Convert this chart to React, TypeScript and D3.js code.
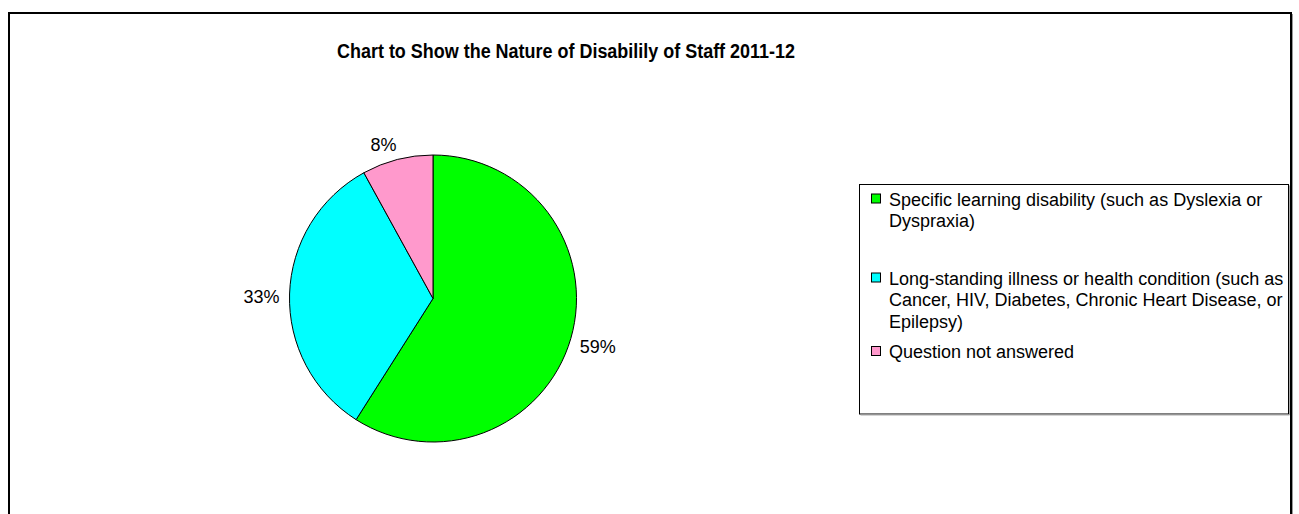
import React, { useEffect, useRef } from "react";
import * as d3 from "d3";

const title = "Chart to Show the Nature of Disabilily of Staff 2011-12";
const categories = [
  "Specific learning disability (such as Dyslexia or Dyspraxia)",
  "Long-standing illness or health condition (such as Cancer, HIV, Diabetes, Chronic Heart Disease, or Epilepsy)",
  "Question not answered",
];
const values = [59, 33, 8];
const legendLines = [
  ["Specific learning disability (such as Dyslexia or", "Dyspraxia)"],
  ["Long-standing illness or health condition (such as", "Cancer, HIV, Diabetes, Chronic Heart Disease, or", "Epilepsy)"],
  ["Question not answered"],
];
const colors = ["#00FF00", "#00FFFF", "#FF99CC"];

const W = 1299;
const H = 514;
const FONT = "'Liberation Sans', Arial, sans-serif";

export default function App() {
  const ref = useRef<SVGSVGElement | null>(null);

  useEffect(() => {
    const svg = d3.select(ref.current);
    svg.selectAll("*").remove();

    // outer chart border
    svg.append("rect").attr("x", 9).attr("y", 13).attr("width", 1282).attr("height", 520)
      .attr("fill", "#fff").attr("stroke", "#000").attr("stroke-width", 2);
    svg.append("line").attr("x1", 1292.5).attr("x2", 1292.5).attr("y1", 14).attr("y2", H)
      .attr("stroke", "#999").attr("stroke-width", 1);

    // title
    svg.append("text").attr("x", 566).attr("y", 58).attr("text-anchor", "middle")
      .attr("font-family", FONT).attr("font-weight", "bold").attr("font-size", 20)
      .attr("textLength", 458).attr("lengthAdjust", "spacingAndGlyphs")
      .text(title);

    const cx = 433, cy = 298.5, r = 143.5;
    const pie = d3.pie<number>().sort(null).value((d) => d);
    const arcs = pie(values);
    const arc = d3.arc<d3.PieArcDatum<number>>().innerRadius(0).outerRadius(r);
    const g = svg.append("g").attr("transform", `translate(${cx},${cy})`);
    g.selectAll("path").data(arcs).enter().append("path")
      .attr("d", arc as any)
      .attr("fill", (_d, i) => colors[i])
      .attr("stroke", "#000").attr("stroke-width", 1);

    const total = d3.sum(values);
    const fmt = (v: number) => `${Math.round((v / total) * 100)}%`;
    arcs.forEach((a) => {
      const mid = (a.startAngle + a.endAngle) / 2;
      const sx = Math.sin(mid), sy = -Math.cos(mid);
      const label = fmt(a.data);
      const t = g.append("text").attr("font-family", FONT).attr("font-size", 18).text(label);
      const node = t.node() as SVGTextElement;
      const w = node.getComputedTextLength();
      const h = 13;
      const d0 = r + 8;
      const px = sx * d0 + sx * (w / 2 + 2) + (sx < 0 && sy < -0.9 ? -8 : 0);
      const py = sy * d0 + sy * (h / 2 + 4) + 3;
      t.attr("x", px).attr("y", py + h / 2).attr("text-anchor", "middle").attr("fill", "#000");
    });

    // legend
    const lx = 859.5, ly = 184.5, lw = 429, lh = 229.5;
    svg.append("rect").attr("x", lx).attr("y", ly).attr("width", lw).attr("height", lh)
      .attr("fill", "#fff").attr("stroke", "#000").attr("stroke-width", 1);
    svg.append("line").attr("x1", lx + lw + 1).attr("x2", lx + lw + 1).attr("y1", ly + 1).attr("y2", ly + lh + 1)
      .attr("stroke", "#aaa");
    svg.append("line").attr("x1", lx + 1).attr("x2", lx + lw + 1).attr("y1", ly + lh + 1).attr("y2", ly + lh + 1)
      .attr("stroke", "#aaa");
    const baselines = [205.5, 284.5, 358];
    const lineH = 21.5;
    categories.forEach((_c, i) => {
      const b = baselines[i];
      svg.append("rect").attr("x", 871.5).attr("y", b - 11.5).attr("width", 9).attr("height", 9)
        .attr("fill", colors[i]).attr("stroke", "#000").attr("stroke-width", 1);
      const t = svg.append("text").attr("font-family", FONT).attr("font-size", 18).attr("fill", "#000");
      legendLines[i].forEach((ln, j) => {
        t.append("tspan").attr("x", 889).attr("y", b + j * lineH).text(ln);
      });
    });
  }, []);

  return (
    <svg ref={ref} width={W} height={H}
      style={{ position: "absolute", left: 0, top: 0, background: "#fff" }} />
  );
}
